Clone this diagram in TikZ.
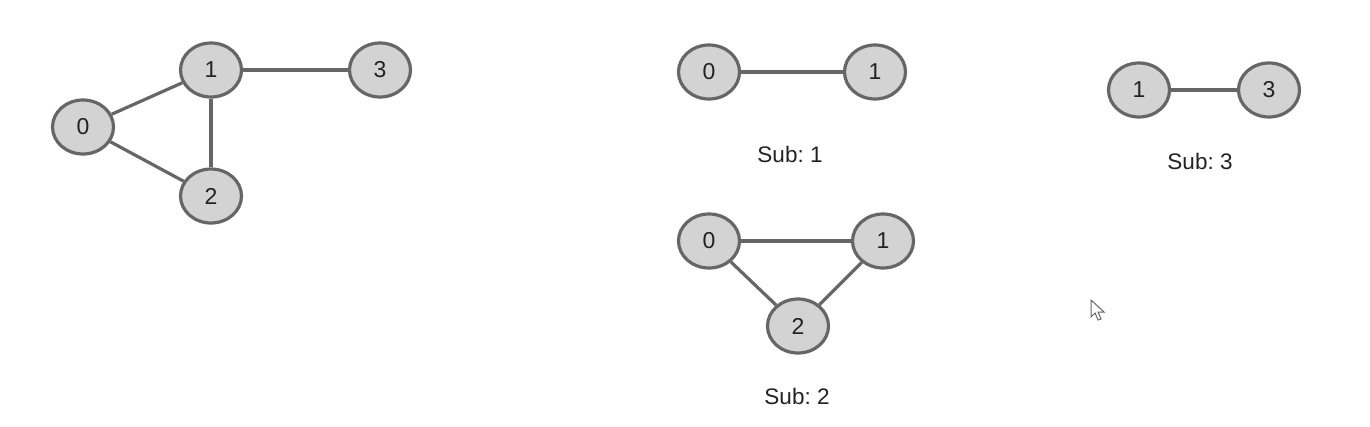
\documentclass[tikz,border=0pt]{standalone}
\usepackage{fontspec}
\setmainfont{Liberation Sans}
\usetikzlibrary{shapes.geometric}
\definecolor{nodefill}{HTML}{D3D3D3}
\definecolor{edgecol}{HTML}{666666}
\definecolor{txtcol}{HTML}{222222}
\frenchspacing
\begin{document}
\begin{tikzpicture}[x=1pt,y=-1pt,
  vertex/.style={ellipse,draw=edgecol,fill=nodefill,line width=3.2pt,minimum width=61pt,minimum height=54pt,inner sep=0pt,text=txtcol,font=\fontsize{23}{25}\selectfont},
  edge/.style={draw=edgecol,line width=3.2pt},
  sublabel/.style={text=txtcol,font=\fontsize{22.5}{25}\selectfont,inner sep=0pt}]
\useasboundingbox[fill=white] (0,0) rectangle (1370,426);
% main graph
\node[vertex] (a0) at (83,127) {0};
\node[vertex] (a1) at (211,70) {1};
\node[vertex] (a2) at (211,196) {2};
\node[vertex] (a3) at (380,70) {3};
\draw[edge] (a0) -- (a1);
\draw[edge] (a0) -- (a2);
\draw[edge] (a1) -- (a2);
\draw[edge] (a1) -- (a3);
% Sub 1
\node[vertex] (b0) at (709,72) {0};
\node[vertex] (b1) at (875,72) {1};
\draw[edge] (b0) -- (b1);
\node[sublabel] (l1) at (790,154) {Sub: 1};
% Sub 2
\node[vertex] (c0) at (709,241) {0};
\node[vertex] (c1) at (883,241) {1};
\node[vertex] (c2) at (798,326) {2};
\draw[edge] (c0) -- (c1);
\draw[edge] (c0) -- (c2);
\draw[edge] (c1) -- (c2);
\node[sublabel] (l2) at (797,396) {Sub: 2};
% Sub 3
\node[vertex] (d1) at (1139,90) {1};
\node[vertex] (d3) at (1269,90) {3};
\draw[edge] (d1) -- (d3);
\node[sublabel] (l3) at (1200,161) {Sub: 3};
% mouse cursor
\draw[draw=black!60,fill=white,line width=1pt,line join=miter]
  (1091,300) -- (1091,317) -- (1095,313) -- (1098,320) -- (1101,319) -- (1098,312) -- (1104,312) -- cycle;
\end{tikzpicture}
\end{document}
